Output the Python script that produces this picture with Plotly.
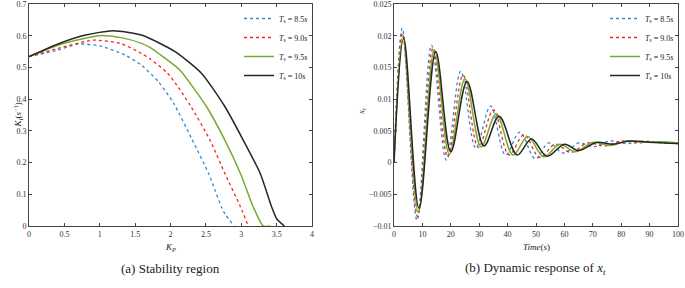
import plotly.graph_objects as go

# ---------------- data: (a) stability region ----------------
kp_85 = [0.0, 0.41, 0.70, 1.00, 1.36, 1.59, 1.83, 2.05, 2.30, 2.54, 2.63, 2.72, 2.77, 2.90]
ki_85 = [0.534, 0.555, 0.574, 0.568, 0.539, 0.507, 0.455, 0.385, 0.275, 0.165, 0.112, 0.060, 0.038, 0.0]

kp_90 = [0.0, 0.41, 0.91, 1.30, 1.59, 1.71, 1.95, 2.07, 2.28, 2.56, 2.77, 2.99, 3.10]
ki_90 = [0.534, 0.560, 0.586, 0.575, 0.544, 0.527, 0.484, 0.450, 0.380, 0.270, 0.165, 0.060, 0.0]

kp_95 = [0.0, 0.41, 0.98, 1.30, 1.59, 1.71, 2.07, 2.16, 2.51, 2.77, 2.99, 3.17, 3.31, 3.41]
ki_95 = [0.534, 0.570, 0.600, 0.594, 0.576, 0.563, 0.504, 0.485, 0.376, 0.270, 0.165, 0.060, 0.0, 0.0]

kp_10 = [0.0, 0.41, 0.80, 1.19, 1.59, 2.07, 2.44, 2.77, 3.03, 3.27, 3.43, 3.50, 3.61]
ki_10 = [0.534, 0.574, 0.602, 0.616, 0.602, 0.549, 0.481, 0.376, 0.270, 0.165, 0.060, 0.023, 0.0]

# ---------------- data: (b) dynamic response of x_t ----------------
t_85 = [0, 2.9, 8.1, 13.2, 18.4, 23.5, 28.8, 34.0, 39.3, 44.3, 49.8, 54.5, 59.8, 65.0, 70.2, 76.0, 82.0, 88.0, 94.0, 100]
x_85 = [0, 0.0212, -0.0091, 0.0185, 0.0004, 0.0144, 0.0023, 0.0089, 0.0012, 0.0048, 0.0006, 0.0031, 0.0015, 0.0031, 0.0025, 0.0034, 0.0030, 0.0034, 0.0031, 0.0030]

t_90 = [0, 3.0, 8.3, 13.7, 18.9, 24.3, 29.7, 35.0, 40.5, 45.8, 51.3, 56.8, 62.3, 68.2, 74.0, 80.0, 86.0, 92.0, 100]
x_90 = [0, 0.0204, -0.0085, 0.0180, 0.0009, 0.0138, 0.0024, 0.0083, 0.0012, 0.0044, 0.0008, 0.0029, 0.0016, 0.0031, 0.0026, 0.0034, 0.0031, 0.0033, 0.0030]

t_95 = [0, 3.2, 8.6, 14.2, 19.5, 25.0, 30.7, 36.0, 41.9, 47.1, 52.7, 58.4, 63.8, 70.0, 76.0, 82.0, 88.0, 94.0, 100]
x_95 = [0, 0.0200, -0.0079, 0.0178, 0.0013, 0.0132, 0.0025, 0.0077, 0.0012, 0.0041, 0.0009, 0.0029, 0.0017, 0.0032, 0.0027, 0.0034, 0.0032, 0.0033, 0.0031]

t_10 = [0, 3.4, 8.8, 14.7, 20.0, 25.7, 31.7, 37.0, 43.4, 48.4, 53.9, 60.0, 65.0, 71.5, 77.0, 83.0, 90.0, 100]
x_10 = [0, 0.0196, -0.0072, 0.0175, 0.0017, 0.0128, 0.0026, 0.0073, 0.0012, 0.0037, 0.0010, 0.0029, 0.0019, 0.0032, 0.0029, 0.0034, 0.0032, 0.0030]

labels = ["<i>T</i><sub>s</sub> = 8.5<i>s</i>", "<i>T</i><sub>s</sub> = 9.0<i>s</i>",
          "<i>T</i><sub>s</sub> = 9.5<i>s</i>", "<i>T</i><sub>s</sub> = 10<i>s</i>"]
colors = ["#2f8ad2", "#ff2020", "#77ac30", "#262626"]
dashes = ["dot", "dot", "solid", "solid"]
widths = [1.3, 1.3, 1.5, 1.5]

FONT = "Liberation Serif"

fig = go.Figure()

left = [(kp_85, ki_85), (kp_90, ki_90), (kp_95, ki_95), (kp_10, ki_10)]
right = [(t_85, x_85), (t_90, x_90), (t_95, x_95), (t_10, x_10)]

for i, (xs, ys) in enumerate(left):
    fig.add_trace(go.Scatter(x=xs, y=ys, mode="lines", name=labels[i],
                             line=dict(color=colors[i], width=widths[i], dash=dashes[i], shape="spline", smoothing=0.6),
                             xaxis="x", yaxis="y", legend="legend"))
for i, (xs, ys) in enumerate(right):
    fig.add_trace(go.Scatter(x=xs, y=ys, mode="lines", name=labels[i],
                             line=dict(color=colors[i], width=widths[i], dash=dashes[i], shape="spline", smoothing=1.0),
                             xaxis="x2", yaxis="y2", legend="legend2"))

W, H = 685, 288


def px(x):
    return x / W


def py(y):
    return 1 - y / H


ydom = [py(226), py(4)]

axcommon = dict(showline=True, linecolor="#444", linewidth=0.8, mirror="ticks", ticks="inside",
                ticklen=3, tickcolor="#444", showgrid=False, zeroline=False, automargin=False,
                ticklabeloverflow="allow",
                tickfont=dict(family=FONT, size=8, color="#333"))

fig.update_layout(
    width=W, height=H, margin=dict(l=0, r=0, t=0, b=0, autoexpand=False),
    paper_bgcolor="white", plot_bgcolor="white",
    font=dict(family=FONT, color="#222"),
    xaxis=dict(domain=[px(29), px(312)], range=[0, 4], dtick=0.5, anchor="y", **axcommon),
    yaxis=dict(domain=ydom, range=[0, 0.7], dtick=0.1, anchor="x", **axcommon),
    xaxis2=dict(domain=[px(394), px(678)], range=[0, 100], dtick=10, anchor="y2", **axcommon),
    yaxis2=dict(domain=ydom, range=[-0.01, 0.025], dtick=0.005, anchor="x2", **axcommon),
    legend=dict(x=px(313), xanchor="right", y=py(4), yanchor="top", bgcolor="rgba(0,0,0,0)",
                font=dict(family=FONT, size=8, color="#222"), tracegroupgap=0),
    legend2=dict(x=px(679), xanchor="right", y=py(4), yanchor="top", bgcolor="rgba(0,0,0,0)",
                 font=dict(family=FONT, size=8, color="#222"), tracegroupgap=0),
)

ann = [
    dict(text="<i>K</i><sub><i>P</i></sub>", x=px((29 + 312) / 2), y=py(247), size=9),
    dict(text="<i>Time</i>(<i>s</i>)", x=px((394 + 678) / 2), y=py(247), size=9),
    dict(text="(a) Stability region", x=px(170), y=py(268), size=13),
    dict(text="(b) Dynamic response of <i>x</i><sub><i>t</i></sub>", x=px(535), y=py(268), size=13),
]
for a in ann:
    fig.add_annotation(text=a["text"], x=a["x"], y=a["y"], xref="paper", yref="paper",
                       showarrow=False, xanchor="center", yanchor="middle",
                       font=dict(family=FONT, size=a["size"], color="#222"))

fig.add_annotation(text="<i>K</i><sub><i>I</i></sub>(<i>s</i><sup>−1</sup>)", x=px(9), y=py(115),
                   xref="paper", yref="paper", showarrow=False, textangle=-90,
                   font=dict(family=FONT, size=9, color="#222"))
fig.add_annotation(text="<i>x</i><sub><i>t</i></sub>", x=px(362), y=py(112),
                   xref="paper", yref="paper", showarrow=False, textangle=-90,
                   font=dict(family=FONT, size=9, color="#222"))

fig.write_html("out.html", config={"displayModeBar": False},
               post_script="document.body.style.margin='0';document.body.style.padding='0';"
                           "document.body.style.overflow='hidden';")
